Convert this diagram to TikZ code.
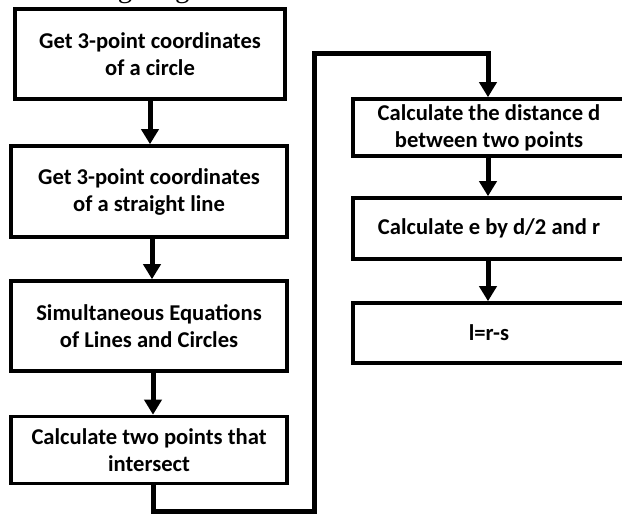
\documentclass[tikz,border=0pt]{standalone}
\usepackage{fontspec}
\setmainfont{Carlito}
\newfontfamily\titleserif{Liberation Serif}
\usetikzlibrary{arrows.meta}
\tikzset{
  box/.style={draw=black, line width=3.6pt, fill=white, inner sep=0pt, align=center,
    font=\fontsize{22.6}{27}\selectfont\bfseries},
  conn/.style={draw=black, line width=5pt, -{Triangle[width=17pt,length=15pt]}},
}
\begin{document}
\begin{tikzpicture}[x=1pt,y=-1pt]
\useasboundingbox (0,0) rectangle (622,514);
\clip (0,0) rectangle (622,514);
\node[anchor=base west, inner sep=0pt, font=\titleserif\fontsize{29}{29}\selectfont] (title) at (5,-2.2) {calculating length d.};
\node[box, minimum width=270pt, minimum height=90pt] (b1) at (150,54) {Get 3-point coordinates\\of a circle};
\node[box, minimum width=276pt, minimum height=91pt] (b2) at (149,191.5) {Get 3-point coordinates\\of a straight line};
\node[box, minimum width=276pt, minimum height=90pt] (b3) at (149,326) {Simultaneous Equations\\of Lines and Circles};
\node[box, minimum width=276pt, minimum height=67pt] (b4) at (149,450) {Calculate two points that\\intersect};
\node[box, minimum width=272pt, minimum height=57pt] (b5) at (489,127.5) {Calculate the distance d\\between two points};
\node[box, minimum width=272pt, minimum height=61pt] (b6) at (489,228.5) {Calculate e by d/2 and r};
\node[box, minimum width=272pt, minimum height=60pt] (b7) at (489,333) {l=r-s};
\draw[conn] (b1.south) -- (b1.south |- b2.north);
\draw[conn] ([xshift=3pt]b2.south) -- ([xshift=3pt]b2.south |- b3.north);
\draw[conn] ([xshift=4pt]b3.south) -- ([xshift=4pt]b3.south |- b4.north);
\coordinate (l1) at (314,511);
\coordinate (l2) at (314,53);
\draw[conn] ([xshift=4pt]b4.south) |- (l1) -- (l2) -| ([xshift=-1pt]b5.north);
\draw[conn] ([xshift=-1pt]b5.south) -- ([xshift=-1pt]b5.south |- b6.north);
\draw[conn] ([xshift=-1pt]b6.south) -- ([xshift=-1pt]b6.south |- b7.north);
\end{tikzpicture}
\end{document}
